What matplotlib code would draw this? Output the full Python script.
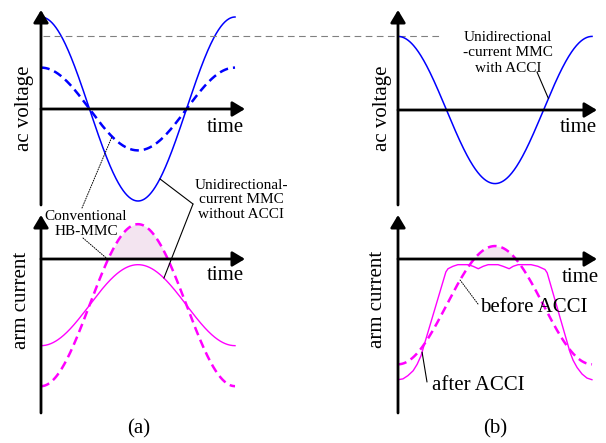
import numpy as np
import matplotlib.pyplot as plt

plt.rcParams['font.family'] = ['Liberation Serif', 'DejaVu Serif']

# waveform data (one period, arbitrary units)
volt_hb_amp = 0.45       # conventional HB-MMC ac voltage
volt_uni_amp = 1.00      # unidirectional-current MMC without ACCI
volt_acci_amp = 0.80     # unidirectional-current MMC with ACCI
ref_level = 0.79         # dashed reference level

cur_offset = -0.57       # dc part of the arm current
cur_hb_amp = 1.00        # arm current, conventional HB-MMC
cur_uni_amp = 0.50       # arm current, unidirectional MMC without ACCI
cur_before_amp = 0.73    # arm current before ACCI

# arm current after ACCI
acci_t = [0.00, 0.16, 0.32, 0.49, 0.62, 0.75, 0.84, 1.55, 1.62, 1.78, 1.94, 2.11,
          2.27, 2.43, 2.60, 2.76, 2.92, 3.08, 3.24, 3.40, 3.60, 3.73, 3.89, 4.08,
          4.31, 4.53, 4.76, 4.83, 5.57, 5.67, 5.80, 5.96, 6.12, 6.28]
acci_i = [-1.49, -1.48, -1.44, -1.38, -1.30, -1.19, -1.07, -0.16, -0.12, -0.09, -0.07, -0.07,
          -0.07, -0.09, -0.12, -0.09, -0.07, -0.07, -0.07, -0.09, -0.12, -0.09, -0.07, -0.07,
          -0.07, -0.09, -0.13, -0.17, -1.15, -1.25, -1.34, -1.42, -1.47, -1.49]

W, H = 606, 443
PX_PER_RAD = 30.88
BLUE = '#0000ff'
MAG = '#ff00ff'
PINK = '#f3e4f0'

fig = plt.figure(figsize=(W / 100, H / 100), dpi=100)
t = np.linspace(0, 2 * np.pi, 400)


def panel(x0, y_top, x1, y_bot, y_zero, scale):
    # box given in image pixels (y down), y_zero = pixel row of the time axis
    ax = fig.add_axes([x0 / W, 1 - y_bot / H, (x1 - x0) / W, (y_bot - y_top) / H])
    ax.set_xlim(0, (x1 - x0) / PX_PER_RAD)
    ax.set_ylim(-(y_bot - y_zero) / scale, (y_zero - y_top) / scale)
    ax.axis('off')
    arrow = dict(arrowstyle='-|>,head_length=0.5,head_width=0.3', color='black',
                 lw=2.0, mutation_scale=15, shrinkA=0, shrinkB=0)
    ax.annotate('', xy=(0, 1), xytext=(0, 0), xycoords='axes fraction', arrowprops=arrow)
    ax.annotate('', xy=(1, 0), xytext=(0, 0), xycoords=ax.get_yaxis_transform(),
                arrowprops=arrow)
    return ax


def txt(x, y, s, size=15, **kw):
    kw.setdefault('ha', 'center')
    fig.text(x / W, 1 - y / H, s, fontsize=size, va='center', **kw)


def leader(ax, xy, x, y, dotted=False):
    ls = (0, (1, 1.5)) if dotted else '-'
    ax.annotate('', xy=xy, xytext=(x, H - y), textcoords='figure pixels',
                arrowprops=dict(arrowstyle='-', lw=0.7 if dotted else 0.8, color='black',
                                linestyle=ls, shrinkA=0, shrinkB=0))


dash = (0, (3.5, 2))

# (a) ac voltage
ax1 = panel(41, 10, 245, 205, 109, 92)
ax1.plot(t, volt_uni_amp * np.cos(t), color=BLUE, lw=1.1)
ax1.plot(t, volt_hb_amp * np.cos(t), color=BLUE, lw=1.8, ls=dash)
ax1.plot([0.05, 13.0], [ref_level, ref_level], color='#808080', lw=0.8,
         ls=(0, (6, 4)), clip_on=False)

# (b) ac voltage
ax2 = panel(398, 10, 597, 205, 110, 92)
ax2.plot(t, volt_acci_amp * np.cos(t), color=BLUE, lw=1.1)

# (a) arm current
ax3 = panel(41, 215, 245, 413, 259, 81)
hb = cur_offset - cur_hb_amp * np.cos(t)
uni = cur_offset - cur_uni_amp * np.cos(t)
ax3.fill_between(t, 0, hb, where=hb > 0, color=PINK, lw=0)
ax3.plot(t, uni, color=MAG, lw=1.0)
ax3.plot(t, hb, color=MAG, lw=1.8, ls=dash)

# (b) arm current
ax4 = panel(398, 215, 597, 413, 259, 81)
before = cur_offset - cur_before_amp * np.cos(t)
ax4.fill_between(t, 0, before, where=before > 0, color=PINK, lw=0)
ax4.plot(acci_t, acci_i, color=MAG, lw=1.0)
ax4.plot(t, before, color=MAG, lw=1.8, ls=dash)

# axis labels
txt(225, 128, 'time')
txt(578, 128, 'time')
txt(225, 276, 'time')
txt(580, 277, 'time')
txt(25, 108, 'ac voltage', rotation=90)
txt(382, 108, 'ac voltage', rotation=90)
txt(22, 300, 'arm current', rotation=90)
txt(378, 299, 'arm current', rotation=90)
txt(139, 429, '(a)')
txt(495, 429, '(b)')

# annotations
txt(241, 199.5, 'Unidirectional-\ncurrent MMC\nwithout ACCI', size=11, linespacing=1.15)
txt(508, 53, 'Unidirectional\n-current MMC\nwith ACCI', size=11, linespacing=1.25)
txt(86, 224, 'Conventional\nHB-MMC', size=11, linespacing=1.2)
txt(480, 308, 'before ACCI', ha='left')
txt(432, 385, 'after ACCI', ha='left')

leader(ax1, (3.85, volt_uni_amp * np.cos(3.85)), 193, 204)
leader(ax3, (3.98, cur_offset - cur_uni_amp * np.cos(3.98)), 193, 204)
leader(ax1, (2.3, volt_hb_amp * np.cos(2.3)), 82, 208, dotted=True)
leader(ax3, (2.17, cur_offset - cur_hb_amp * np.cos(2.17)), 83, 238, dotted=True)
leader(ax2, (4.87, volt_acci_amp * np.cos(4.87)), 537, 72)
leader(ax4, (2.01, cur_offset - cur_before_amp * np.cos(2.01)), 478, 304, dotted=True)
leader(ax4, (0.78, np.interp(0.78, acci_t, acci_i)), 427, 382)

fig.savefig('out.png', dpi=100)
